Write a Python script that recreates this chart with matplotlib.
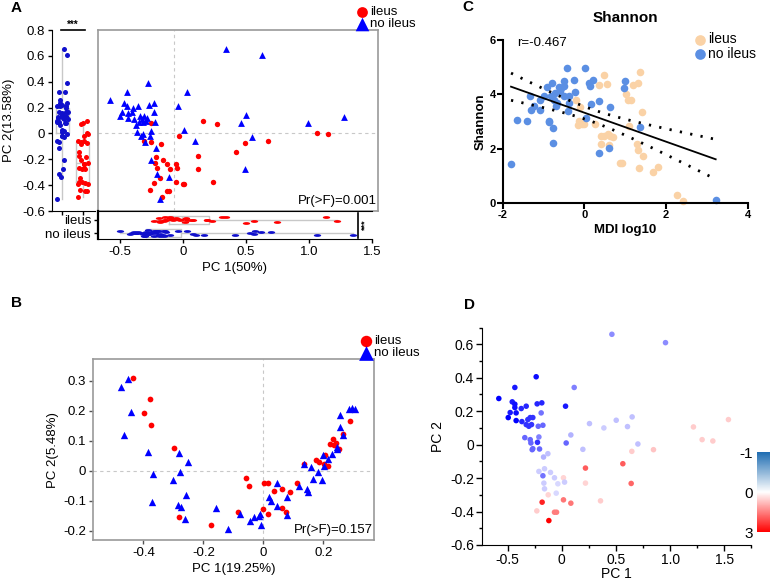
import numpy as np
import matplotlib
matplotlib.use('Agg')
import matplotlib.pyplot as plt
from matplotlib.colors import LinearSegmentedColormap, TwoSlopeNorm
from matplotlib.cm import ScalarMappable
from matplotlib.path import Path
from matplotlib.transforms import Affine2D
from matplotlib.ticker import FuncFormatter, MultipleLocator

plt.rcParams['font.family'] = ['Liberation Sans', 'DejaVu Sans']
plt.rcParams['axes.unicode_minus'] = False

# ---------------- data ----------------
# A: PCoA (PC1 50%, PC2 13.58%)
a_no_pc1 = [0.41, -0.209, -0.373, 0.10, -0.505, -0.394, -0.376, -0.323, -0.283, -0.196,
            -0.156, 0.034, -0.41, -0.368, -0.426, -0.362, -0.315, -0.27, -0.235, -0.161,
            -0.278, -0.243, -0.257, -0.225, -0.151, 0.077, -0.294, -0.249, -0.183, -0.262,
            -0.19, -0.23, 0.167, -0.143, -0.185, -0.135, -0.04, -0.108, -0.331, -0.217,
            -0.304, 0.701, 0.571, 0.532, 0.616, 1.061, 1.347, 0.563]
a_no_pc2 = [0.656, 0.39, 0.323, 0.323, 0.259, 0.233, 0.215, 0.197, 0.21, 0.223,
            0.233, 0.21, 0.169, 0.159, 0.133, 0.118, 0.108, 0.133, 0.138, 0.167,
            0.087, 0.087, 0.108, 0.10, 0.087, 0.028, 0.01, -0.005, 0.018, -0.021,
            -0.021, -0.067, -0.059, -0.11, -0.203, -0.31, -0.336, -0.505, 0.169, 0.123,
            0.067, 0.605, 0.144, 0.079, -0.028, 0.079, 0.126, -0.274]
a_il_pc1 = [-0.183, 0.228, 0.341, 0.04, -0.235, -0.183, -0.106, 0.193, -0.143, -0.085,
            -0.148, -0.056, 0.016, -0.138, -0.029, 0.024, 0.193, -0.108, 0.016, 0.069,
            0.079, 0.312, -0.156, -0.193, -0.056, -0.04, -0.093, 1.132, 1.22, 0.563,
            0.743, 0.495]
a_il_pc2 = [0.082, 0.097, 0.074, -0.018, -0.056, -0.064, -0.085, -0.174, -0.182, -0.203,
            -0.226, -0.233, -0.233, -0.264, -0.274, -0.264, -0.272, -0.341, -0.372, -0.39,
            -0.395, -0.379, -0.387, -0.441, -0.449, -0.449, -0.49, 0.003, -0.008, -0.072,
            -0.062, -0.146]

# B: PCoA (PC1 19.25%, PC2 5.48%)
b_no_pc1 = [-0.473, -0.452, -0.441, -0.464, -0.384, -0.367, -0.37, -0.302, -0.281, -0.278,
            -0.25, -0.259, -0.283, -0.273, -0.261, -0.157, -0.117, -0.079, -0.044, -0.031,
            -0.013, -0.011, -0.009, 0.02, 0.026, 0.044, 0.044, 0.078, 0.08, 0.119,
            0.136, 0.147, 0.15, 0.159, 0.167, 0.183, 0.197, 0.2, 0.202, 0.214,
            0.23, 0.244, 0.247, 0.256, 0.256, 0.267, 0.284, 0.294, 0.306]
b_no_pc2 = [0.28, 0.304, 0.196, 0.12, 0.062, -0.01, -0.104, -0.032, 0.058, -0.006,
            0.029, -0.08, -0.114, -0.122, -0.161, -0.126, -0.194, -0.146, -0.169, -0.156,
            -0.151, -0.144, -0.182, -0.087, -0.102, -0.042, -0.117, -0.087, -0.149, -0.052,
            0.021, -0.06, -0.07, 0.013, -0.027, -0.003, -0.031, 0.052, 0.017, 0.039,
            0.056, 0.079, 0.073, 0.147, 0.186, 0.119, 0.204, 0.208, 0.204]
b_il_pc1 = [-0.436, -0.377, -0.397, -0.376, -0.298, -0.281, -0.176, -0.086, -0.057, -0.049,
            0.0, 0.003, 0.014, 0.014, 0.034, 0.062, 0.061, 0.074, 0.088, 0.113,
            0.134, 0.176, 0.187, 0.202, 0.214, 0.206, 0.222, 0.231, 0.237, 0.242,
            0.251, 0.267, 0.289]
b_il_pc2 = [0.31, 0.239, 0.191, 0.152, 0.077, -0.154, -0.18, -0.137, -0.023, -0.051,
            -0.128, -0.041, -0.041, -0.144, -0.068, -0.062, -0.126, -0.139, -0.07, -0.041,
            0.022, 0.034, 0.03, 0.023, 0.017, 0.052, 0.089, 0.104, 0.086, 0.093,
            0.071, 0.122, 0.167]

# C: Shannon vs MDI log10
c_no_mdi = [-1.796, -1.649, -1.404, -1.322, -1.314, -1.241, -1.094, -1.094, -0.98, -0.914,
            -0.873, -0.865, -0.816, -0.792, -0.767, -0.776, -0.735, -0.71, -0.669, -0.686,
            -0.629, -0.588, -0.571, -0.506, -0.506, -0.49, -0.424, -0.4, -0.384, -0.384,
            -0.261, -0.237, 0.008, 0.049, 0.106, 0.131, 0.163, 0.212, 0.351, 0.359,
            0.596, 0.62, 1.004, 0.98, 1.355, 3.216]
c_no_sh = [1.427, 3.073, 3.037, 3.927, 3.439, 3.585, 3.78, 3.439, 3.927, 4.268,
           3.037, 2.976, 3.927, 4.415, 2.768, 2.22, 3.805, 4.049, 3.683, 3.585,
           4.268, 4.11, 4.232, 4.476, 3.927, 4.317, 4.963, 3.378, 3.927, 3.683,
           4.512, 4.073, 4.963, 3.134, 4.415, 4.317, 3.659, 4.537, 1.854, 3.744,
           2.037, 3.537, 4.476, 4.232, 2.805, 0.122]
c_il_mdi = [-0.204, -0.098, -0.122, -0.057, -0.163, -0.016, 0.269, 0.351, 0.482, 0.555,
            0.4, 0.49, 0.571, 0.62, 0.416, 0.596, 0.694, 1.094, 1.029, 1.061,
            1.143, 1.404, 1.192, 1.306, 1.355, 1.29, 1.306, 1.429, 1.347, 1.673,
            1.796, 0.865, 0.922, 2.269, 2.416]
c_il_sh = [3.805, 3.537, 3.012, 2.915, 2.89, 2.927, 2.915, 4.354, 4.72, 4.378,
           2.488, 2.463, 2.549, 2.463, 2.195, 2.159, 2.439, 2.854, 4.012, 3.805,
           3.805, 3.354, 4.354, 4.415, 4.841, 2.195, 1.951, 1.756, 1.28, 1.159,
           1.341, 1.488, 1.488, 0.293, 0.098]
c_r_text = 'r=-0.467'

# D: PCoA coloured by value (-1 .. 3)
d_pc1 = [-0.582, -0.237, -0.434, 0.114, -0.458, -0.434, -0.434, -0.329, -0.375, -0.477,
         -0.422, -0.495, -0.422, -0.369, -0.314, -0.292, -0.268, -0.329, -0.305, -0.28,
         -0.228, -0.185, 0.034, -0.191, -0.218, -0.175, -0.342, -0.292, -0.286, -0.212,
         -0.225, -0.268, -0.274, -0.206, -0.129, -0.169, 0.04, 0.083, 0.255, 0.388,
         0.502, 0.649, 0.606, 0.194, 0.702, -0.212, -0.16, -0.175, -0.105, -0.068,
         -0.037, -0.166, -0.16, -0.052, 0.015, 0.025, -0.126, 0.218, 0.218, 0.015,
         0.083, 0.357, -0.182, -0.231, -0.068, -0.049, -0.12, 0.563, 0.64, 0.646,
         0.846, 1.215, 1.295, 1.394, 1.538, 0.462, 0.957]
d_pc2 = [0.276, 0.406, 0.342, 0.342, 0.256, 0.242, 0.222, 0.23, 0.216, 0.192,
         0.19, 0.162, 0.144, 0.138, 0.15, 0.162, 0.162, 0.12, 0.11, 0.12,
         0.244, 0.25, 0.23, 0.19, 0.11, 0.116, 0.042, 0.03, 0.01, 0.046,
         0.014, -0.024, -0.03, -0.026, -0.054, -0.074, 0.01, 0.058, 0.126, 0.1,
         0.146, 0.166, 0.108, -0.028, 0.004, -0.16, -0.144, -0.186, -0.166, -0.198,
         -0.234, -0.23, -0.264, -0.29, -0.198, -0.224, -0.3, -0.14, -0.23, -0.33,
         -0.35, -0.336, -0.344, -0.396, -0.404, -0.404, -0.454, -0.114, -0.232, -0.04,
         -0.03, 0.106, 0.03, 0.022, 0.15, 0.66, 0.61]
d_val = [-1, -0.95, -0.9, -0.5, -0.9, -0.95, -0.95, -0.85, -0.85, -0.9,
         -0.95, -1, -1, -0.85, -0.8, -0.8, -0.8, -0.8, -0.8, -0.8,
         -0.85, -0.85, -0.9, -0.55, -0.6, -0.6, -0.6, -0.6, -0.6, -0.5,
         -0.8, -0.6, -0.6, -0.6, -0.25, -0.3, -0.6, -0.3, -0.25, -0.2,
         -0.25, -0.25, -0.25, -0.25, -0.25, -0.2, -0.2, -0.55, -0.2, -0.2,
         -0.15, -0.2, -0.2, -0.15, 0.5, -0.2, 0.5, 1.9, 0.5, 1.6,
         1.6, 0.6, 2.6, 0.6, 1.5, 1.5, 3.0, 1.9, 1.8, 0.6,
         0.7, 0.6, 0.6, 0.6, 0.6, -0.45, -0.45]

a_pc2_ticks = [-0.6, -0.4, -0.2, 0, 0.2, 0.4, 0.6, 0.8]
pc1_ticks = [-0.5, 0, 0.5, 1.0, 1.5]

# ---------------- figure ----------------
W, H = 772, 581
fig = plt.figure(figsize=(W / 100, H / 100), dpi=100)


def px_box(l, t, r, b):
    return [l / W, 1 - b / H, (r - l) / W, (b - t) / H]


def fxy(x, y):
    return x / W, 1 - y / H


def one_dec(v, p):
    return '0' if abs(v) < 1e-9 else f'{v:.1f}'


gfmt = FuncFormatter(lambda v, p: '0' if abs(v) < 1e-9 else f'{v:g}')

RED = '#ff0000'
BLUE = '#0000ff'
GRID = '#c8c8c8'
FRAME = '#9a9a9a'
FS = 9.5

# ---- A: left box of PC2 ----
axL = fig.add_axes(px_box(52, 30, 95, 211))
box_kw = dict(widths=0.64, whis=(0, 100), showcaps=False, showfliers=False,
              boxprops=dict(color=GRID, lw=1), whiskerprops=dict(color=GRID, lw=1),
              medianprops=dict(color=GRID, lw=1))
axL.boxplot([a_no_pc2, a_il_pc2], positions=[0, 1], **box_kw)
rng = np.random.default_rng(7)
for i, (vals, col) in enumerate([(a_no_pc2, '#1010cc'), (a_il_pc2, RED)]):
    jit = rng.uniform(-0.28, 0.28, len(vals))
    axL.scatter(i + jit, vals, s=13, color=col, lw=0, zorder=3)
axL.set_xlim(-0.5, 1.6)
axL.set_ylim(-0.6, 0.8)
axL.set_yticks(a_pc2_ticks)
axL.yaxis.set_major_formatter(gfmt)
axL.set_xticks([0, 1])
axL.set_xticklabels([])
axL.tick_params(labelsize=FS, length=3, width=1, pad=2)
axL.spines[['top', 'right']].set_visible(False)
axL.set_ylabel('PC 2(13.58%)', fontsize=FS)
axL.yaxis.set_label_coords(-0.86, 0.5)
axL.plot([-0.08, 1.12], [0.8, 0.8], color='black', lw=1.2, clip_on=False)
axL.text(0.52, 0.8, '***', ha='center', va='bottom', fontsize=7, fontweight='bold')

# ---- A: main scatter ----
axS = fig.add_axes(px_box(98, 30, 378, 211))
axS.axhline(0, color=GRID, lw=0.8, ls=(0, (3, 3)), zorder=0)
axS.axvline(0, color=GRID, lw=0.8, ls=(0, (3, 3)), zorder=0)
axS.scatter(a_il_pc1, a_il_pc2, s=15, marker='o', color=RED, lw=0, label='ileus')
axS.scatter(a_no_pc1, a_no_pc2, s=24, marker='^', color=BLUE, lw=0, label='no ileus')
axS.set_xlim(-0.603, 1.619)
axS.set_ylim(-0.6, 0.8)
axS.set_xticks([])
axS.set_yticks([])
for sp in axS.spines.values():
    sp.set_color(FRAME)
    sp.set_linewidth(1.2)
axS.text(0.995, 0.02, 'Pr(>F)=0.001', transform=axS.transAxes, ha='right', va='bottom', fontsize=FS)
fig.legend(*axS.get_legend_handles_labels(), loc='upper left', bbox_to_anchor=fxy(346, -2),
           frameon=False, fontsize=FS, markerscale=2.0, handletextpad=0.0, labelspacing=0.0,
           borderpad=0.1, handlelength=1.2)

# ---- A: bottom strip of PC1 ----
axB1 = fig.add_axes(px_box(98, 211, 372, 239))
ell = Path.unit_circle().transformed(Affine2D().scale(1, 0.38))
axB1.boxplot([a_no_pc1, a_il_pc1], positions=[0, 1], orientation='horizontal', **box_kw)
for i, (vals, col) in enumerate([(a_no_pc1, '#1010cc'), (a_il_pc1, RED)]):
    jit = rng.uniform(-0.22, 0.22, len(vals))
    axB1.scatter(vals, i + jit, s=28, marker=ell, color=col, lw=0, zorder=3)
axB1.set_xlim(-0.677, 1.5)
axB1.set_ylim(-0.46, 1.69)
axB1.set_yticks([0, 1])
axB1.set_yticklabels(['no ileus', 'ileus'])
axB1.set_xticks(pc1_ticks)
axB1.xaxis.set_major_formatter(FuncFormatter(one_dec))
axB1.tick_params(labelsize=FS, length=3, width=1, pad=2)
axB1.spines['right'].set_visible(False)
axB1.spines['left'].set_linewidth(1.6)
axB1.set_xlabel('PC 1(50%)', fontsize=FS, labelpad=3)
axB1.plot([1.387, 1.387], [-0.35, 1.55], color='black', lw=1.2, clip_on=False)
axB1.text(1.445, 0.6, '***', rotation=90, ha='center', va='center', fontsize=6.5, fontweight='bold',
          clip_on=False)

# ---- B ----
axB = fig.add_axes(px_box(93.3, 359.3, 374, 540))
axB.axhline(0, color=GRID, lw=0.8, ls=(0, (3, 3)), zorder=0)
axB.axvline(0, color=GRID, lw=0.8, ls=(0, (3, 3)), zorder=0)
axB.scatter(b_il_pc1, b_il_pc2, s=17, marker='o', color=RED, lw=0, label='ileus')
axB.scatter(b_no_pc1, b_no_pc2, s=28, marker='^', color=BLUE, lw=0, label='no ileus')
axB.set_xlim(-0.567, 0.369)
axB.set_ylim(-0.231, 0.371)
axB.set_xticks([-0.4, -0.2, 0, 0.2])
axB.set_yticks([-0.2, -0.1, 0, 0.1, 0.2, 0.3])
axB.xaxis.set_major_formatter(gfmt)
axB.yaxis.set_major_formatter(gfmt)
axB.tick_params(labelsize=FS, length=3, width=1, pad=2, color='#555555')
for sp in axB.spines.values():
    sp.set_color(FRAME)
    sp.set_linewidth(1.2)
axB.set_xlabel('PC 1(19.25%)', fontsize=FS, labelpad=3)
axB.set_ylabel('PC 2(5.48%)', fontsize=FS, labelpad=3)
axB.text(0.995, 0.02, 'Pr(>F)=0.157', transform=axB.transAxes, ha='right', va='bottom', fontsize=FS)
fig.legend(*axB.get_legend_handles_labels(), loc='upper left', bbox_to_anchor=fxy(350, 327),
           frameon=False, fontsize=FS, markerscale=2.0, handletextpad=0.0, labelspacing=0.0,
           borderpad=0.1, handlelength=1.2)

# ---- C ----
axC = fig.add_axes(px_box(502.7, 40, 747.7, 203.3))
axC.scatter(c_il_mdi, c_il_sh, s=30, color='#fad2a6', lw=0, label='ileus', clip_on=False, zorder=2)
axC.scatter(c_no_mdi, c_no_sh, s=30, color='#5b8fe3', lw=0, label='no ileus', clip_on=False, zorder=2)
xs = np.array(c_no_mdi + c_il_mdi)
ys = np.array(c_no_sh + c_il_sh)
slope, icpt = np.polyfit(xs, ys, 1)
n = len(xs)
resid = ys - (slope * xs + icpt)
s_err = np.sqrt(np.sum(resid ** 2) / (n - 2))
sxx = np.sum((xs - xs.mean()) ** 2)
xl = np.linspace(xs.min(), xs.max(), 100)
yl = slope * xl + icpt
band = 1.99 * s_err * np.sqrt(1 / n + (xl - xs.mean()) ** 2 / sxx)
axC.plot(xl, yl, color='black', lw=1.3, zorder=3)
axC.plot(xl, yl + band, color='black', lw=2, ls=(0, (0.8, 3)), zorder=3)
axC.plot(xl, yl - band, color='black', lw=2, ls=(0, (0.8, 3)), zorder=3)
axC.set_xlim(-2, 4)
axC.set_ylim(0, 6)
axC.set_xticks([-2, 0, 2, 4])
axC.set_yticks([0, 2, 4, 6])
axC.spines[['top', 'right']].set_visible(False)
axC.spines[['left', 'bottom']].set_linewidth(1.5)
axC.tick_params(labelsize=8, length=4, width=1.5, pad=1)
for lab in axC.get_xticklabels() + axC.get_yticklabels():
    lab.set_fontweight('bold')
axC.set_xlabel('MDI log10', fontsize=9.5, fontweight='bold', labelpad=3)
axC.set_ylabel('Shannon', fontsize=9.5, fontweight='bold', labelpad=2)
axC.set_title('Shannon', fontsize=11, fontweight='bold', pad=13)
axC.text(-1.65, 5.88, c_r_text, fontsize=9.5, va='center')
axC.legend(loc='upper left', bbox_to_anchor=fxy(683, 24), bbox_transform=fig.transFigure,
           frameon=False, fontsize=10, markerscale=1.4, handletextpad=0.0, labelspacing=0.05,
           borderpad=0.1, handlelength=1.2)

# ---- D ----
axD = fig.add_axes(px_box(481.7, 327.6, 751.4, 545))
cmap_pts = LinearSegmentedColormap.from_list('pts', ['#0000ff', '#ffffff', '#ff0000'])
cmap_bar = LinearSegmentedColormap.from_list('bar', ['#1f6db2', '#ffffff', '#ff0000'])
norm = TwoSlopeNorm(vmin=-1, vcenter=0, vmax=3)
axD.scatter(d_pc1, d_pc2, c=d_val, cmap=cmap_pts, norm=norm, s=16, lw=0)
axD.set_xlim(-0.74, 1.75)
axD.set_ylim(-0.6, 0.7)
axD.set_xticks(pc1_ticks)
axD.set_yticks([-0.6, -0.4, -0.2, 0, 0.2, 0.4, 0.6])
axD.xaxis.set_minor_locator(MultipleLocator(0.25))
axD.yaxis.set_minor_locator(MultipleLocator(0.1))
axD.xaxis.set_major_formatter(FuncFormatter(one_dec))
axD.yaxis.set_major_formatter(gfmt)
axD.spines[['top', 'right']].set_visible(False)
axD.tick_params(labelsize=10, length=4, width=1, pad=1.5)
axD.tick_params(which='minor', length=2.5, width=1)
axD.set_xlabel('PC 1', fontsize=10, labelpad=0)
axD.set_ylabel('PC 2', fontsize=10, labelpad=4)

cax = fig.add_axes(px_box(757, 452, 770, 532))
cb = fig.colorbar(ScalarMappable(norm=norm, cmap=cmap_bar), cax=cax, ticks=[-1, 0, 3])
cax.invert_yaxis()
cax.yaxis.set_ticks_position('left')
cb.outline.set_visible(False)
cax.tick_params(length=0, labelsize=11, pad=3)

# panel letters
for letter, (x, y) in zip('ABCD', [(11, 8), (11, 303), (462, 7), (464, 305)]):
    fig.text(*fxy(x, y), letter, fontsize=11, fontweight='bold', va='center')

fig.savefig('out.png', dpi=100)
